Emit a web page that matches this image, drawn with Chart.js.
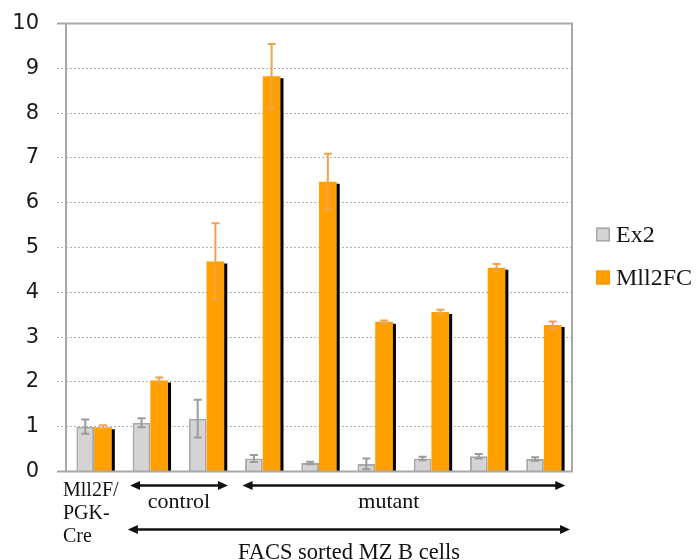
<!DOCTYPE html>
<html>
<head>
<meta charset="utf-8">
<script src="https://cdn.jsdelivr.net/npm/chart.js@4/dist/chart.umd.min.js"></script>
<style>
  html, body { margin: 0; padding: 0; background: #ffffff; }
  #wrap { width: 696px; height: 560px; }
</style>
</head>
<body>
<div id="wrap"><canvas id="chart" width="696" height="560"></canvas></div>
<script>
// Relative expression, MZ B cells (Ex2 vs Mll2FC), mean ± error
const categories = ['Mll2F/PGK-Cre', 'control 1', 'control 2', 'mutant 1', 'mutant 2', 'mutant 3', 'mutant 4', 'mutant 5', 'mutant 6'];
const ex2Values    = [1.00, 1.09, 1.18, 0.29, 0.19, 0.17, 0.29, 0.34, 0.28];
const ex2Errors    = [0.16, 0.10, 0.42, 0.08, 0.03, 0.12, 0.04, 0.05, 0.04];
const mll2fcValues = [0.99, 2.03, 4.69, 8.82, 6.47, 3.34, 3.56, 4.55, 3.27];
const mll2fcErrors = [0.04, 0.07, 0.85, 0.72, 0.62, 0.03, 0.05, 0.08, 0.08];
const yTicks = [0, 1, 2, 3, 4, 5, 6, 7, 8, 9, 10];
const seriesNames = ['Ex2', 'Mll2FC'];
const baseGroupLabel = ['Mll2F/', 'PGK-', 'Cre'];
const brackets = [
  { label: 'control', first: 1, last: 2 },
  { label: 'mutant',  first: 3, last: 8 }
];
const footerLabel = 'FACS sorted MZ B cells';

const GRAY_FILL = '#d4d4d4', GRAY_EDGE = '#a9a9a9', GRAY_ERR = '#9b9b9b';
const ORANGE_FILL = '#ffa000', ORANGE_ERR = '#f0a24e';
const SERIF = '"Liberation Serif", "Times New Roman", serif';

const errorsByDataset = [ex2Errors, mll2fcErrors];
const errorColors = [GRAY_ERR, ORANGE_ERR];

// Hard drop shadow to the lower right of the orange bars
const barShadow = {
  id: 'barShadow',
  beforeDatasetDraw(chart, args) {
    if (args.index !== 1) return;
    const ctx = chart.ctx;
    ctx.save();
    ctx.shadowColor = '#000000';
    ctx.shadowOffsetX = 3;
    ctx.shadowOffsetY = 2;
    ctx.shadowBlur = 0;
  },
  afterDatasetDraw(chart, args) {
    if (args.index !== 1) return;
    chart.ctx.restore();
  }
};

// Error bars with caps, placed through the value scale
const errorBars = {
  id: 'errorBars',
  afterDatasetsDraw(chart) {
    const ctx = chart.ctx;
    const y = chart.scales.y;
    chart.data.datasets.forEach((ds, di) => {
      const meta = chart.getDatasetMeta(di);
      const errs = errorsByDataset[di];
      ctx.save();
      ctx.strokeStyle = errorColors[di];
      ctx.lineWidth = 2;
      meta.data.forEach((bar, i) => {
        const v = ds.data[i], e = errs[i];
        const top = y.getPixelForValue(v + e);
        const bot = y.getPixelForValue(Math.max(0, v - e));
        const x = bar.x;
        ctx.beginPath();
        ctx.moveTo(x, top); ctx.lineTo(x, bot);
        ctx.moveTo(x - 4, top); ctx.lineTo(x + 4, top);
        ctx.moveTo(x - 4, bot); ctx.lineTo(x + 4, bot);
        ctx.stroke();
      });
      ctx.restore();
    });
  }
};

// Plot frame, legend and the group annotations below the axis
const decorations = {
  id: 'decorations',
  afterDraw(chart) {
    const ctx = chart.ctx;
    const a = chart.chartArea;
    const xs = chart.scales.x;
    const ys = chart.scales.y;
    const tick = 9;

    // frame
    ctx.save();
    ctx.strokeStyle = '#a8a8a8';
    ctx.lineWidth = 2;
    const yTop = ys.getPixelForValue(yTicks[yTicks.length - 1]);
    const yBot = ys.getPixelForValue(yTicks[0]);
    ctx.beginPath();
    ctx.moveTo(a.left - tick, yTop); ctx.lineTo(a.right, yTop);
    ctx.lineTo(a.right, yBot); ctx.lineTo(a.left - tick, yBot);
    ctx.moveTo(a.left, yTop); ctx.lineTo(a.left, yBot);
    ctx.stroke();
    ctx.restore();

    // legend
    ctx.save();
    const midY = (a.top + a.bottom) / 2;
    const legendRows = [midY - 13, midY + 30];
    const legendFill = [GRAY_FILL, ORANGE_FILL];
    const legendEdge = [GRAY_EDGE, '#f59a10'];
    chart.data.datasets.forEach((ds, i) => {
      const cy = legendRows[i];
      const bx = a.right + 24;
      ctx.fillStyle = legendFill[i];
      ctx.fillRect(bx, cy - 7, 14, 14);
      ctx.strokeStyle = legendEdge[i];
      ctx.lineWidth = 1.5;
      ctx.strokeRect(bx + 0.75, cy - 6.25, 12.5, 12.5);
      ctx.fillStyle = '#151515';
      ctx.font = '24px ' + SERIF;
      ctx.textAlign = 'left';
      ctx.textBaseline = 'middle';
      ctx.fillText(ds.label, bx + 20, cy + 1);
    });
    ctx.restore();

    // annotations
    const cw = xs.getPixelForValue(1) - xs.getPixelForValue(0);
    const arrow = (x1, x2, yy, leftHead, rightHead) => {
      ctx.beginPath();
      ctx.moveTo(x1 + (leftHead ? 6 : 0), yy);
      ctx.lineTo(x2 - (rightHead ? 6 : 0), yy);
      ctx.stroke();
      if (leftHead) {
        ctx.beginPath();
        ctx.moveTo(x1, yy); ctx.lineTo(x1 + 10, yy - 4.5); ctx.lineTo(x1 + 10, yy + 4.5);
        ctx.closePath(); ctx.fill();
      }
      if (rightHead) {
        ctx.beginPath();
        ctx.moveTo(x2, yy); ctx.lineTo(x2 - 10, yy - 4.5); ctx.lineTo(x2 - 10, yy + 4.5);
        ctx.closePath(); ctx.fill();
      }
    };

    ctx.save();
    ctx.strokeStyle = '#111111';
    ctx.fillStyle = '#111111';
    ctx.lineWidth = 2.5;
    ctx.font = '20px ' + SERIF;
    ctx.textAlign = 'left';
    ctx.textBaseline = 'alphabetic';
    const baseX = a.left - 3;
    baseGroupLabel.forEach((line, i) => ctx.fillText(line, baseX, a.bottom + 24.5 + i * 23));

    const bracketY = a.bottom + 14;
    const labelShift = [0, -15];
    ctx.font = '22px ' + SERIF;
    ctx.textAlign = 'center';
    brackets.forEach((b, i) => {
      const x1 = xs.getPixelForValue(b.first) - 0.36 * cw;
      const x2 = xs.getPixelForValue(b.last) + 0.38 * cw;
      arrow(x1, x2, bracketY, true, true);
      ctx.fillText(b.label, (x1 + x2) / 2 + labelShift[i], a.bottom + 36.5);
    });

    const bigY = a.bottom + 58;
    const bx1 = xs.getPixelForValue(brackets[0].first) - 0.4 * cw;
    const bx2 = a.right - 2;
    arrow(bx1, bx2, bigY, true, true);
    ctx.font = '22.5px ' + SERIF;
    ctx.fillText(footerLabel, (bx1 + bx2) / 2, a.bottom + 87);
    ctx.restore();
  }
};

new Chart(document.getElementById('chart'), {
  type: 'bar',
  data: {
    labels: categories,
    datasets: [
      {
        label: seriesNames[0],
        data: ex2Values,
        backgroundColor: GRAY_FILL,
        borderColor: GRAY_EDGE,
        borderWidth: 2,
        categoryPercentage: 0.63,
        barPercentage: 1.0
      },
      {
        label: seriesNames[1],
        data: mll2fcValues,
        backgroundColor: ORANGE_FILL,
        borderWidth: 0,
        categoryPercentage: 0.63,
        barPercentage: 1.0,
        clip: 0
      }
    ]
  },
  options: {
    responsive: false,
    animation: false,
    devicePixelRatio: 1,
    layout: { padding: { left: 0, top: 23.5, right: 124, bottom: 88.5 } },
    plugins: {
      legend: { display: false },
      tooltip: { enabled: false },
      title: { display: false }
    },
    scales: {
      x: {
        type: 'category',
        offset: true,
        grid: { display: false, drawTicks: false },
        border: { display: false },
        ticks: { display: false },
        afterFit(s) { s.height = 0; }
      },
      y: {
        min: yTicks[0],
        max: yTicks[yTicks.length - 1],
        afterBuildTicks(s) { s.ticks = yTicks.map(v => ({ value: v })); },
        ticks: {
          font: { family: '"DejaVu Sans", Verdana, sans-serif', size: 21 },
          color: '#1a1a1a',
          padding: 18
        },
        grid: {
          color: '#b0b0b0',
          lineWidth: 1,
          tickLength: 9,
          tickColor: '#b0b0b0',
          tickBorderDash: [2, 2]
        },
        border: { display: false, dash: [2, 2] },
        afterFit(s) { s.width = 66; s.paddingTop = 0; s.paddingBottom = 0; }
      }
    }
  },
  plugins: [barShadow, errorBars, decorations]
});
</script>
</body>
</html>
